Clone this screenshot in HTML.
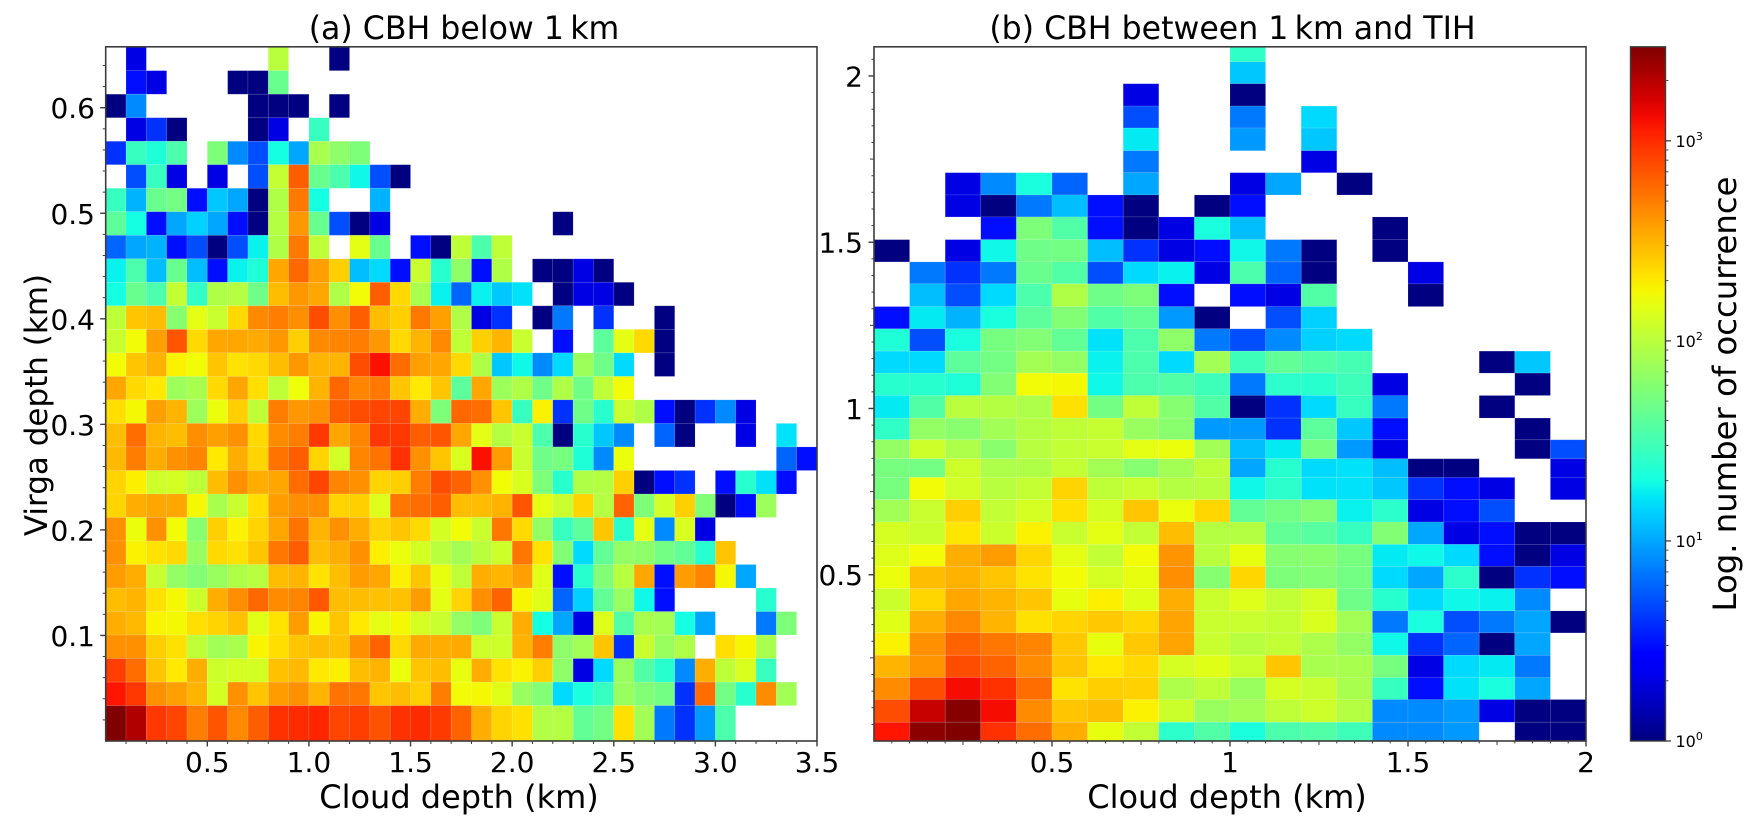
<!DOCTYPE html>
<html>
<head>
<meta charset="utf-8">
<title>Virga depth vs cloud depth</title>
<style>
html,body{margin:0;padding:0;background:#fff;}
svg{display:block;}
text{font-family:"DejaVu Sans","Liberation Sans",sans-serif;fill:#000;}
</style>
</head>
<body>
<svg id="fig" xmlns="http://www.w3.org/2000/svg" width="1758" height="831" viewBox="0 0 1758 831">
  <defs>
    <linearGradient id="jetGrad" x1="0" y1="1" x2="0" y2="0"></linearGradient>
  </defs>
  <rect x="0" y="0" width="1758" height="831" fill="#fff"/>
  <g id="panelA"></g>
  <g id="panelB"></g>
  <g id="cbar"></g>
  <text x="464" y="39" font-size="31.6" text-anchor="middle">(a) CBH below 1&#8201;km</text>
  <text x="1232.5" y="39" font-size="31.6" text-anchor="middle">(b) CBH between 1&#8201;km and TIH</text>
  <text x="459" y="808" font-size="32" text-anchor="middle">Cloud depth (km)</text>
  <text x="1227" y="808" font-size="32" text-anchor="middle">Cloud depth (km)</text>
  <text transform="translate(47,405) rotate(-90)" font-size="31" text-anchor="middle">Virga depth (km)</text>
  <text transform="translate(1736,394) rotate(-90)" font-size="32.3" text-anchor="middle">Log. number of occurrence</text>
</svg>
<script>
// ---- Data: counts per bin, rows listed from top of the plot to bottom; 0 / missing = empty bin ----
const countsA = [
[0,2,0,0,0,0,0,0,100,0,0,1],
[0,3,2,0,0,0,1,1,45],
[1,8,0,0,0,0,0,1,1,1,0,1],
[0,2,4,1,0,0,0,1,2,0,28],
[4,28,22,34,0,55,8,5,20,10,85,65,55],
[0,5,28,2,0,2,0,5,110,650,45,34,19,5,1],
[28,11,45,50,3,13,10,1,90,520,20,0,0,11],
[40,20,3,10,14,10,3,1,95,400,45,5,1,2,0,0,0,0,0,0,0,0,1],
[6,10,11,3,5,1,5,18,90,520,105,0,150,45,0,3,1,105,34,105],
[18,34,12,45,12,3,18,22,350,600,370,250,12,15,3,115,24,65,3,90,0,1,1,2,1],
[20,45,34,110,26,90,95,48,290,400,350,90,170,650,230,85,18,6,18,13,16,0,1,2,2,1],
[105,270,290,60,150,115,230,450,500,430,750,430,650,290,250,520,370,90,2,4,0,1,7,0,4,0,0,1],
[115,170,370,700,230,350,350,340,400,250,450,470,500,400,230,310,450,105,250,310,115,0,3,0,40,150,230,1],
[170,270,320,185,170,270,210,230,290,400,310,310,750,1250,570,370,350,230,90,13,19,8,15,75,48,15,0,1],
[350,230,200,75,85,230,350,220,105,165,310,600,470,520,270,200,270,40,350,75,90,48,90,48,105,170],
[220,175,370,310,75,160,250,105,500,400,420,650,750,800,800,330,55,600,570,270,28,185,4,48,24,115,90,3,1,4,8,2],
[290,570,310,290,430,370,420,230,440,500,900,350,470,900,900,650,700,350,150,95,115,34,1,24,13,8,0,6,1,0,0,2,0,16],
[300,500,330,420,470,200,330,240,540,650,240,125,470,540,950,420,270,135,1250,380,115,48,52,22,8,160,0,0,0,0,0,0,0,6,3],
[240,190,120,128,105,290,420,330,350,570,800,470,420,240,250,500,750,620,420,170,135,55,24,90,95,250,1,3,4,0,3,24,16,3],
[240,330,350,350,175,85,115,220,380,430,430,240,250,140,530,570,650,290,290,320,700,150,115,240,95,620,55,125,250,58,1,3,75],
[420,160,420,170,60,250,185,240,350,540,310,420,330,240,270,230,128,170,115,530,230,68,28,40,270,24,150,8,135,2],
[420,185,210,230,70,230,215,270,530,650,290,330,420,190,160,128,100,80,100,120,530,210,58,15,42,68,65,50,42,24,270],
[380,330,115,68,58,72,90,98,290,310,210,290,380,350,190,270,155,105,330,310,370,145,3,24,58,98,350,3,380,470,175,10],
[290,310,215,175,118,330,430,600,440,470,680,290,290,280,280,380,150,240,430,620,180,145,6,14,42,70,19,3,0,0,0,0,24],
[330,300,180,175,220,240,280,145,210,380,180,270,200,150,175,130,115,68,55,115,330,20,10,2,140,36,85,80,20,10,0,0,7,55],
[420,420,250,215,105,78,85,180,220,270,290,280,420,620,230,340,330,340,120,120,320,500,65,78,270,4,115,72,90,0,220,180,85],
[850,570,270,200,330,120,130,128,280,300,200,190,290,310,160,270,290,155,330,210,185,250,65,2,15,72,36,24,8,330,105,135,28],
[1200,900,420,370,310,128,420,270,380,420,310,540,530,270,290,250,500,170,175,145,72,58,15,21,28,72,58,50,4,570,50,24,440,78],
[2950,2100,900,800,500,700,450,650,950,1000,1050,800,850,720,950,1000,880,620,330,240,215,92,95,42,50,215,80,7,4,9,34]
];
const countsB = [
[0,0,0,0,0,0,0,0,0,0,26],
[0,0,0,0,0,0,0,0,0,0,13],
[0,0,0,0,0,0,0,2,0,0,1],
[0,0,0,0,0,0,0,5,0,0,7,0,15],
[0,0,0,0,0,0,0,17,0,0,9,0,13],
[0,0,0,0,0,0,0,7,0,0,0,0,2],
[0,0,2,8,21,6,0,10,0,0,2,10,0,1],
[0,0,2,1,7,12,3,1,0,1,3],
[0,0,0,3,55,36,3,1,2,21,12,0,0,0,1],
[1,0,2,19,48,50,12,4,2,3,19,7,1,0,1],
[0,7,4,7,45,36,5,15,18,2,34,6,1,0,0,2],
[0,12,5,15,34,90,48,55,3,0,3,2,36,0,0,1],
[3,17,11,21,40,58,36,42,9,1,0,5,14],
[22,5,21,52,58,42,16,34,65,7,5,8,14,15],
[15,15,40,50,80,68,18,34,15,78,30,42,36,32,0,0,0,1,13],
[24,24,22,58,170,175,19,34,36,30,7,25,24,30,2,0,0,0,1],
[17,36,100,95,88,215,50,105,60,36,1,4,15,28,7,0,0,1],
[26,68,62,78,95,105,112,72,62,9,9,4,40,13,3,0,0,0,1],
[68,120,88,62,98,108,115,150,160,78,12,17,52,9,2,0,0,0,1,5],
[52,50,120,88,90,110,80,60,80,105,10,24,15,16,12,1,1,0,0,2],
[52,170,125,98,110,240,105,115,95,100,19,25,16,16,13,4,3,2,0,2],
[78,115,250,108,130,215,128,270,160,235,42,50,58,18,25,2,3,5],
[130,118,205,118,185,115,150,108,290,95,95,42,38,28,58,10,2,3,1,1],
[140,170,330,380,235,150,108,170,410,100,155,60,62,52,17,19,15,3,1,2],
[160,290,320,270,210,170,130,155,430,60,235,55,58,50,15,10,25,1,4,3],
[118,235,350,310,270,155,190,145,330,118,140,108,130,48,24,15,19,18,8],
[145,330,450,310,215,240,265,235,360,115,115,110,135,80,7,21,5,7,10,1],
[185,420,620,530,470,265,155,265,360,115,98,108,88,68,19,4,6,1,10],
[310,410,750,620,440,270,200,230,130,145,118,270,85,85,52,2,15,17,7],
[440,750,1300,950,570,210,250,245,88,105,72,130,115,85,28,3,16,21,10],
[750,1800,2800,1300,440,270,290,185,118,72,80,105,120,95,8,8,9,2,1,1],
[1200,2700,2950,950,570,330,155,108,25,36,21,34,36,30,8,8,9,0,1,1]
];
// Virga-depth bin edges (km), from the bottom of each panel upward
const yEdgesA = [0,0.0335,0.0558,0.0781,0.1004,0.1226,0.1449,0.1672,0.1895,0.2118,0.2340,0.2563,0.2786,0.3009,0.3232,0.3454,0.3677,0.3900,0.4123,0.4346,0.4568,0.4791,0.5014,0.5237,0.5460,0.5682,0.5905,0.6128,0.6351,0.6577];
const yEdgesB = [0,0.0565,0.1247,0.1908,0.2578,0.3251,0.3912,0.4582,0.5252,0.5913,0.6586,0.7257,0.7927,0.8488,0.9059,0.9712,1.039,1.1064,1.1725,1.2395,1.3065,1.3747,1.4408,1.5078,1.576,1.6421,1.7091,1.7752,1.8434,1.9095,1.9766,2.0426,2.0877];
const xBinWidth = 0.1;
const xTickLabelsA = ["0.5","1.0","1.5","2.0","2.5","3.0","3.5"];
const yTickLabelsA = ["0.1","0.2","0.3","0.4","0.5","0.6"];
const xTickLabelsB = ["0.5","1","1.5","2"];
const yTickLabelsB = ["0.5","1","1.5","2"];
const cbarTickExponents = [0,1,2,3];
const vMin = 1;
const vMax = 2950;

// ---- Colour map ----
const jetR = [[0,0],[0.35,0],[0.66,1],[0.89,1],[1,0.5]];
const jetG = [[0,0],[0.125,0],[0.375,1],[0.64,1],[0.91,0],[1,0]];
const jetB = [[0,0.5],[0.11,1],[0.34,1],[0.65,0],[1,0]];
function lerp(tbl,t){
  for(let i=1;i<tbl.length;i++){
    if(t<=tbl[i][0]){
      const f=(t-tbl[i-1][0])/(tbl[i][0]-tbl[i-1][0]);
      return tbl[i-1][1]+f*(tbl[i][1]-tbl[i-1][1]);
    }
  }
  return tbl[tbl.length-1][1];
}
function jet(t){
  t=Math.max(0,Math.min(1,t));
  return 'rgb('+Math.round(255*lerp(jetR,t))+','+Math.round(255*lerp(jetG,t))+','+Math.round(255*lerp(jetB,t))+')';
}
function colorScale(v){
  return jet(Math.log(v/vMin)/Math.log(vMax/vMin));
}

const NS='http://www.w3.org/2000/svg';
function mk(parent,tag){
  const el=document.createElementNS(NS,tag);
  parent.appendChild(el);
  return el;
}
function setA(el,o){ for(const k in o){ el.setAttribute(k,o[k]); } return el; }

const FRAME='#3c3c3c';
const axTop=46.8, axBot=741;

function tick(parent,x1,y1,x2,y2,w){
  const el=mk(parent,'line');
  
  
  setA(el,{x1:x1,y1:y1,x2:x2,y2:y2,stroke:FRAME,'stroke-width':w});
}
function label(parent,x,y,txt,anchor,size){
  const el=mk(parent,'text');
  
  
  setA(el,{x:x,y:y,'font-size':size,'text-anchor':anchor});
  el.textContent=txt;
  return el;
}

function drawPanel(g,counts,yEdges,left,right,xMax,yMax){
  const sx=v=>left+(v/xMax)*(right-left);
  const sy=v=>axBot-(v/yMax)*(axBot-axTop);
  const nRows=counts.length;
  counts.forEach((row,ri)=>{
    const bi=nRows-1-ri;
    row.forEach((v,ci)=>{
      if(!v) return;
      const r=mk(g,'rect');
      
      
      const x0=sx(ci*xBinWidth), x1=sx((ci+1)*xBinWidth);
      const y0=sy(yEdges[bi+1]), y1=sy(yEdges[bi]);
      setA(r,{x:x0.toFixed(2),y:y0.toFixed(2),width:(x1-x0).toFixed(2),height:(y1-y0).toFixed(2),fill:colorScale(v),stroke:'#ffffff','stroke-opacity':0.15,'stroke-width':0.7});
    });
  });
  const f=mk(g,'rect');
  
  
  setA(f,{x:left,y:axTop,width:right-left,height:axBot-axTop,fill:'none',stroke:FRAME,'stroke-width':1.6});
  return {sx,sy};
}

// Panel (a)
const pa=document.getElementById('panelA');
const sa=drawPanel(pa,countsA,yEdgesA,105.7,817,3.5,0.6577);
for(let i=1;i<=35;i++){
  const x=sa.sx(i*0.1), major=i%5===0;
  tick(pa,x,axBot,x,axBot+(major?5.5:3),major?1.4:1);
}
xTickLabelsA.forEach((s,i)=>{ label(pa,sa.sx(parseFloat(s)),772,s,'middle',28); });
for(let i=1;i<=32;i++){
  const y=sa.sy(i*0.02), major=i%5===0;
  tick(pa,105.7,y,105.7-(major?5.5:3),y,major?1.4:1);
}
yTickLabelsA.forEach((s)=>{ label(pa,95,sa.sy(parseFloat(s))+10.5,s,'end',28); });

// Panel (b)
const pb=document.getElementById('panelB');
const sb=drawPanel(pb,countsB,yEdgesB,874,1586,2,2.0877);
for(let i=1;i<=40;i++){
  const x=sb.sx(i*0.05), major=i%10===0, mid=i%5===0;
  tick(pb,x,axBot,x,axBot+(major?5.5:mid?4:2.5),major?1.4:1);
}
xTickLabelsB.forEach((s)=>{ label(pb,sb.sx(parseFloat(s)),772,s,'middle',28); });
for(let i=1;i<=41;i++){
  const y=sb.sy(i*0.05), major=i%10===0, mid=i%5===0;
  tick(pb,874,y,874-(major?5.5:mid?4:2.5),y,major?1.4:1);
}
yTickLabelsB.forEach((s)=>{ label(pb,863,sb.sy(parseFloat(s))+10.5,s,'end',28); });

// Colour bar
const cb=document.getElementById('cbar');
const cbL=1630.5, cbR=1665.5;
const grad=document.getElementById('jetGrad');
for(let i=0;i<=40;i++){
  const st=mk(grad,'stop');
  setA(st,{offset:(i/40).toFixed(3),'stop-color':jet(i/40)});
}
const cbSy=v=>axBot-(Math.log(v/vMin)/Math.log(vMax/vMin))*(axBot-axTop);
const cbRect=mk(cb,'rect');


setA(cbRect,{x:cbL,y:axTop,width:cbR-cbL,height:axBot-axTop,fill:'url(#jetGrad)',stroke:FRAME,'stroke-width':1.4});
cbarTickExponents.forEach((e)=>{
  const base=Math.pow(10,e), y=cbSy(base);
  tick(cb,cbR,y,cbR+5.5,y,1.3);
  const t=label(cb,cbR+10,y+6,'10','start',16);
  const sup=mk(t,'tspan');
  
  
  setA(sup,{dy:-7,'font-size':11});
  sup.textContent=String(e);
  for(let m=2;m<=9;m++){
    const v=m*base;
    if(v>vMax) break;
    const ym=cbSy(v);
    tick(cb,cbR,ym,cbR+3,ym,0.9);
  }
});
</script>
</body>
</html>
